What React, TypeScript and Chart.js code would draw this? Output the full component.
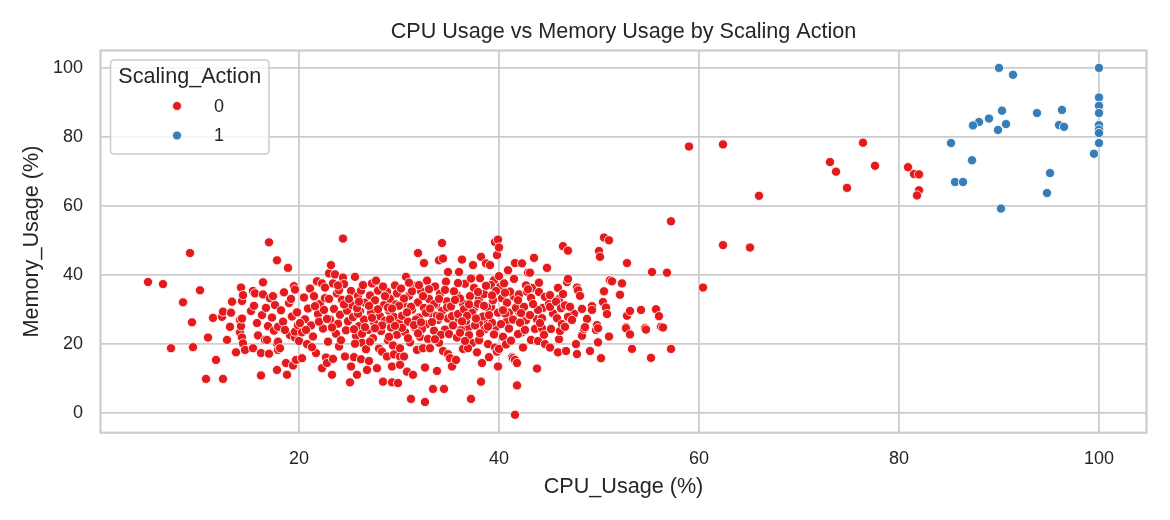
import React, { useEffect, useRef } from "react";
import { Chart, registerables } from "chart.js";

Chart.register(...registerables);

const TITLE = "CPU Usage vs Memory Usage by Scaling Action";
const X_LABEL = "CPU_Usage (%)";
const Y_LABEL = "Memory_Usage (%)";
const LEGEND_TITLE = "Scaling_Action";
const SERIES_LABELS = ["0", "1"];
const X_TICKS = [20, 40, 60, 80, 100];
const Y_TICKS = [0, 20, 40, 60, 80, 100];
const X_RANGE = [0.15, 104.75];
const Y_RANGE = [-5.8, 105.04];

type P = [number, number];

// Scaling_Action = 0, CPU < 15
const action0BandA: P[] = [
  [4.9, 37.9], [6.4, 37.3], [7.2, 18.7], [8.4, 32.0], [9.1, 46.3], [9.3, 26.2], [9.4, 19.0], [10.1, 35.5],
  [10.7, 9.8], [10.9, 21.8], [11.4, 27.5], [11.7, 15.3], [12.3, 27.8], [12.4, 29.3], [12.4, 9.8], [12.8, 21.1],
  [13.1, 24.9], [13.2, 29.0], [13.3, 32.2], [13.7, 17.5], [14.1, 26.9], [14.1, 23.3], [14.2, 36.3], [14.2, 25.1],
  [14.3, 21.8], [14.3, 32.4], [14.4, 34.1], [14.4, 20.1], [14.6, 18.2], [14.3, 27.3],
];
// CPU 15-20
const action0BandB: P[] = [
  [15.4, 35.3], [15.6, 34.6], [15.4, 18.7], [15.2, 29.5], [15.5, 31.0], [15.8, 26.0], [15.9, 22.4], [16.2, 17.3],
  [16.2, 10.8], [16.4, 37.8], [16.4, 34.3], [16.6, 21.1], [16.8, 21.1], [16.9, 25.1], [16.3, 28.3], [16.7, 30.4],
  [17.0, 49.4], [17.0, 17.1], [17.1, 33.2], [17.4, 33.8], [17.3, 27.6], [17.5, 23.8], [17.6, 31.2], [17.8, 44.2],
  [17.8, 12.4], [17.8, 20.1], [17.9, 18.2], [17.9, 24.9], [17.9, 20.6], [18.1, 18.7], [18.2, 29.7], [18.4, 26.4],
  [18.5, 34.9], [18.7, 14.4], [18.8, 11.0], [18.9, 42.0], [19.1, 22.5], [19.0, 31.8], [19.3, 27.9], [19.4, 13.7],
  [19.5, 36.7], [19.6, 35.7], [19.6, 21.8], [19.6, 23.5], [19.7, 15.3], [19.8, 29.1], [19.9, 25.4], [20.0, 20.8],
];
// CPU 20-25
const action0BandC: P[] = [
  [20.3, 23.3], [20.3, 15.8], [20.5, 33.4], [20.6, 27.1], [20.8, 19.9], [20.9, 30.2], [21.1, 36.0], [21.2, 25.3],
  [21.4, 22.1], [21.5, 33.8], [21.7, 17.3], [21.8, 38.1], [21.9, 28.6], [22.1, 31.5], [22.3, 37.5], [22.3, 12.9],
  [22.4, 24.4], [22.6, 36.3], [22.6, 33.2], [22.7, 16.0], [22.8, 14.4], [22.9, 20.6], [23.0, 40.4], [23.1, 27.0],
  [23.2, 42.8], [23.3, 11.0], [23.4, 15.6], [23.4, 37.5], [23.5, 30.1], [23.6, 40.1], [23.7, 22.9], [23.8, 34.6],
  [23.9, 25.8], [24.0, 19.2], [24.1, 28.4], [24.3, 32.7], [24.4, 50.5], [24.4, 39.2], [24.5, 37.3], [24.6, 16.3],
  [24.7, 23.9], [24.8, 29.6], [24.9, 26.5], [24.2, 21.0], [20.1, 26.0], [21.3, 19.0], [22.0, 26.4], [23.0, 33.0],
  [24.0, 35.5], [22.5, 29.8],
];
// CPU 25-30
const action0BandD: P[] = [
  [25.1, 8.8], [25.2, 13.4], [25.2, 35.3], [25.3, 31.2], [25.4, 27.7], [25.5, 16.1], [25.6, 39.4], [25.7, 22.3],
  [25.8, 11.0], [25.9, 33.9], [26.0, 25.1], [26.1, 29.4], [26.2, 15.5], [26.2, 35.4], [26.3, 20.3], [26.4, 37.0],
  [26.5, 27.0], [26.6, 31.9], [26.8, 12.4], [26.9, 24.0], [27.0, 15.0], [27.1, 34.0], [27.2, 29.0], [27.3, 37.5],
  [27.4, 21.6], [27.5, 26.2], [27.6, 32.6], [27.8, 12.9], [27.9, 35.4], [28.0, 18.6], [28.1, 28.0], [28.2, 23.7],
  [28.3, 17.7], [28.4, 9.0], [28.5, 31.2], [28.6, 26.7], [28.8, 16.3], [28.8, 35.1], [28.9, 21.0], [29.0, 29.6],
  [29.1, 33.0], [29.2, 24.7], [29.3, 8.8], [29.3, 13.4], [29.4, 19.5], [29.5, 27.8], [29.6, 36.9], [29.7, 31.4],
  [29.8, 22.6], [29.9, 8.6], [30.0, 25.9], [25.5, 24.2], [26.7, 18.4], [27.7, 38.3], [28.6, 33.8], [29.5, 16.9],
  [25.9, 28.7], [27.0, 31.0], [28.3, 25.3], [29.1, 27.1], [26.3, 22.9], [27.3, 27.5], [28.9, 30.5], [25.6, 20.0],
  [29.8, 34.6],
];
// CPU 30-35
const action0BandE: P[] = [
  [30.1, 16.3], [30.1, 18.7], [30.1, 13.9], [30.2, 36.0], [30.3, 28.1], [30.4, 31.6], [30.5, 16.3], [30.6, 23.4],
  [30.7, 39.4], [30.8, 11.9], [30.9, 26.4], [31.0, 33.9], [31.1, 20.4], [31.2, 4.0], [31.3, 29.9], [31.4, 11.0],
  [31.5, 36.8], [31.6, 24.7], [31.8, 18.2], [31.9, 46.3], [31.9, 32.0], [32.0, 27.6], [32.1, 22.0], [32.2, 35.2],
  [32.4, 18.7], [32.5, 43.4], [32.5, 30.4], [32.6, 13.1], [32.6, 3.1], [32.7, 25.6], [32.8, 38.3], [32.9, 21.4],
  [33.0, 33.0], [33.1, 18.7], [33.2, 28.8], [33.4, 6.9], [33.5, 23.8], [33.6, 36.6], [33.7, 31.3], [33.8, 12.1],
  [33.9, 26.9], [34.0, 44.2], [34.0, 20.3], [34.1, 34.5], [34.3, 49.2], [34.3, 29.5], [34.4, 44.7], [34.4, 17.9],
  [34.5, 6.9], [34.6, 24.1], [34.7, 38.0], [34.8, 32.3], [34.9, 40.8], [34.9, 17.0], [34.9, 27.3], [30.5, 33.1],
  [31.2, 30.7], [31.7, 27.0], [32.3, 24.3], [33.0, 35.8], [33.5, 31.5], [34.2, 22.6], [30.9, 21.6], [32.7, 29.0],
  [33.8, 28.1], [31.5, 25.4], [34.6, 35.6], [32.0, 37.0], [33.3, 26.3], [30.3, 24.6],
];
// CPU 35-40
const action0BandF: P[] = [
  [35.1, 15.8], [35.3, 13.4], [35.2, 30.8], [35.4, 25.3], [35.5, 35.2], [35.7, 15.3], [35.8, 21.8], [35.9, 28.6],
  [36.0, 40.8], [36.1, 33.1], [36.2, 24.0], [36.3, 44.4], [36.4, 18.5], [36.5, 30.0], [36.6, 37.4], [36.7, 26.6],
  [36.9, 18.7], [37.0, 22.5], [37.1, 33.8], [37.2, 4.0], [37.3, 29.0], [37.4, 42.8], [37.5, 36.2], [37.6, 25.3],
  [37.8, 17.5], [37.9, 31.6], [38.0, 21.0], [38.1, 39.0], [38.2, 45.2], [38.2, 9.0], [38.3, 14.4], [38.4, 27.9],
  [38.5, 34.4], [38.6, 24.2], [38.7, 43.3], [38.8, 30.6], [38.9, 19.9], [39.0, 16.1], [39.1, 42.8], [39.2, 37.0],
  [39.3, 26.1], [39.4, 32.6], [39.5, 22.7], [39.6, 49.5], [39.6, 18.9], [39.7, 35.3], [39.8, 45.7], [39.8, 17.7],
  [39.9, 50.2], [39.9, 13.4], [39.9, 29.0], [40.0, 47.9], [40.0, 18.5], [40.0, 39.6], [35.6, 32.7], [36.8, 28.1],
  [37.7, 27.3], [38.9, 25.0], [36.1, 23.2], [37.2, 38.9], [38.5, 31.0], [39.3, 34.0], [35.9, 37.6], [36.6, 20.8],
  [37.9, 35.0], [39.0, 28.3], [38.1, 23.0], [36.3, 26.5], [37.0, 31.4], [38.7, 36.8],
];
// CPU 40-45
const action0BandG: P[] = [
  [40.2, 25.7], [40.3, 33.2], [40.4, 22.0], [40.5, 37.5], [40.6, 28.8], [40.7, 19.8], [40.8, 31.9], [40.9, 41.3],
  [41.0, 24.4], [41.1, 35.1], [41.3, 16.1], [41.4, 15.8], [41.4, 27.0], [41.5, 38.8], [41.6, 15.3], [41.6, -0.6],
  [41.6, 43.4], [41.7, 30.4], [41.8, 14.4], [41.8, 7.9], [41.9, 22.8], [42.0, 34.3], [42.1, 26.1], [42.3, 43.3],
  [42.4, 18.9], [42.5, 30.7], [42.6, 24.0], [42.7, 36.9], [42.8, 35.1], [42.9, 35.8], [42.9, 40.6], [43.0, 28.3],
  [43.1, 40.6], [43.1, 28.3], [43.2, 33.3], [43.2, 21.1], [43.5, 44.9], [43.6, 24.3], [43.8, 12.8], [43.9, 20.8],
  [43.9, 29.8], [44.0, 37.7], [44.3, 24.5], [44.3, 27.4], [44.6, 33.6], [44.6, 19.9], [44.8, 42.0], [45.0, 31.5],
  [40.6, 34.8], [41.2, 20.9], [42.2, 28.9], [44.1, 26.0], [40.4, 29.7], [43.4, 31.5], [41.9, 32.6], [44.5, 22.6],
];
// CPU 45-57
const action0BandH: P[] = [
  [45.1, 34.1], [45.1, 30.7], [45.1, 18.9], [45.2, 24.3], [45.7, 32.2], [45.8, 27.4], [45.9, 36.2], [45.9, 17.5],
  [46.0, 21.3], [46.1, 23.7], [46.2, 30.3], [46.3, 25.7], [46.4, 48.3], [46.4, 34.4], [46.6, 31.1], [46.6, 24.9],
  [46.7, 17.9], [46.8, 37.9], [46.9, 38.8], [46.9, 47.0], [46.9, 27.8], [47.1, 30.7], [47.3, 26.9], [47.7, 19.9],
  [47.8, 36.3], [47.8, 17.0], [47.9, 35.5], [48.1, 33.9], [48.3, 30.1], [48.3, 22.3], [48.5, 24.3], [48.6, 24.8],
  [49.1, 17.9], [49.3, 30.9], [49.3, 29.8], [49.7, 24.0], [49.8, 25.4], [49.9, 24.5], [49.9, 20.4], [50.0, 46.9],
  [50.1, 45.2], [50.2, 15.8], [50.4, 32.1], [50.5, 50.8], [50.5, 35.2], [50.7, 30.5], [50.8, 28.6], [51.0, 50.0],
  [51.0, 22.1], [51.1, 38.4], [51.3, 38.1], [52.1, 34.2], [52.3, 37.5], [52.7, 24.8], [52.7, 24.5], [52.8, 43.4],
  [52.8, 28.1], [53.1, 29.5], [53.1, 22.7], [53.3, 18.5], [54.2, 29.8], [54.6, 24.5], [54.7, 24.1], [55.2, 15.9],
  [55.3, 40.8], [55.7, 30.0], [56.0, 28.0], [56.2, 24.9], [56.4, 24.7], [56.8, 40.6], [57.2, 55.5], [57.2, 18.5],
];
// dense core, CPU 18-49
const action0Core: P[] = [
  [21.6, 30.9], [22.8, 27.2], [23.3, 24.7], [24.5, 31.4], [25.0, 33.0], [25.8, 30.3], [26.6, 24.8], [27.1, 20.6],
  [27.9, 30.0], [28.4, 36.6], [29.0, 22.0], [29.6, 25.2], [30.8, 29.1], [31.3, 35.2], [31.9, 23.0], [32.4, 33.8],
  [33.1, 30.2], [33.6, 21.3], [34.1, 27.9], [34.8, 30.5], [35.3, 28.0], [35.8, 34.1], [36.4, 31.7], [36.9, 24.6],
  [37.5, 30.3], [38.0, 33.1], [38.6, 27.0], [39.2, 30.7], [39.7, 24.9], [40.1, 36.5], [40.8, 26.7], [41.5, 33.7],
  [42.0, 29.2], [42.7, 26.8], [43.3, 36.2], [43.8, 27.1], [44.4, 30.4], [45.4, 28.8], [46.0, 33.0], [47.5, 28.7],
  [48.8, 27.2], [23.9, 36.9], [26.0, 32.2], [30.0, 31.0], [32.2, 26.2], [36.0, 27.0], [37.3, 20.2], [39.5, 38.4],
  [41.0, 29.0], [42.3, 23.3], [20.7, 24.0], [19.2, 33.0], [18.6, 24.0], [27.6, 24.5], [31.0, 37.7], [35.0, 22.8],
  [44.0, 35.0], [29.3, 30.2], [34.0, 33.0], [38.0, 26.0],
];
// CPU > 57, Scaling_Action = 0
const action0BandI: P[] = [
  [59.0, 77.2], [60.4, 36.3], [62.4, 77.8], [62.4, 48.6], [65.1, 47.9], [66.0, 62.9], [73.1, 72.7], [73.7, 69.9],
  [74.8, 65.2], [76.4, 78.3], [77.6, 71.6], [80.9, 71.2], [81.5, 69.2], [82.0, 69.1], [82.0, 64.5], [81.8, 63.0],
];
// Scaling_Action = 1
const action1Points: P[] = [
  [90.0, 100.0], [91.4, 98.0], [100.0, 100.0], [100.0, 91.4], [100.0, 89.0], [100.0, 86.9], [100.0, 83.4],
  [100.0, 82.1], [100.0, 81.1], [100.0, 78.2], [99.5, 75.1], [90.3, 87.6], [93.8, 86.9], [96.3, 87.8],
  [96.0, 83.4], [96.5, 82.9], [89.0, 85.3], [88.0, 84.3], [87.4, 83.3], [90.7, 83.7], [89.9, 82.0],
  [85.2, 78.2], [87.3, 73.2], [85.6, 66.9], [86.4, 66.9], [95.1, 69.5], [94.8, 63.7], [90.2, 59.2],
];

const action0Points: P[] = [
  ...action0BandA, ...action0BandB, ...action0BandC, ...action0BandD, ...action0BandE, ...action0Core,
  ...action0BandF, ...action0BandG, ...action0BandH, ...action0BandI,
];

const COLORS = ["#e41a1c", "#377eb8"];
const FONT = "'Liberation Sans', Arial, 'DejaVu Sans', sans-serif";
const TEXT = "#262626";
const GRID = "#cccccc";

const decorPlugin = {
  id: "decor",
  beforeDatasetsDraw(chart: any) {
    const { ctx, chartArea: a } = chart;
    ctx.save();
    ctx.strokeStyle = GRID;
    ctx.lineWidth = 2.2;
    ctx.strokeRect(a.left, a.top, a.right - a.left, a.bottom - a.top);
    ctx.restore();
  },
  afterDraw(chart: any) {
    const { ctx, chartArea: a } = chart;
    const cx = (a.left + a.right) / 2;
    ctx.save();
    ctx.fillStyle = TEXT;
    ctx.textAlign = "center";
    ctx.textBaseline = "middle";
    ctx.font = `21.6px ${FONT}`;
    ctx.fillText(TITLE, cx, 32);
    ctx.fillText(X_LABEL, cx, 487);
    ctx.save();
    ctx.translate(32, (a.top + a.bottom) / 2);
    ctx.rotate(-Math.PI / 2);
    ctx.fillText(Y_LABEL, 0, 0);
    ctx.restore();

    // legend
    const lx = 110.5, ly = 60, lw = 158.5, lh = 94, r = 4;
    ctx.beginPath();
    ctx.moveTo(lx + r, ly);
    ctx.lineTo(lx + lw - r, ly);
    ctx.quadraticCurveTo(lx + lw, ly, lx + lw, ly + r);
    ctx.lineTo(lx + lw, ly + lh - r);
    ctx.quadraticCurveTo(lx + lw, ly + lh, lx + lw - r, ly + lh);
    ctx.lineTo(lx + r, ly + lh);
    ctx.quadraticCurveTo(lx, ly + lh, lx, ly + lh - r);
    ctx.lineTo(lx, ly + r);
    ctx.quadraticCurveTo(lx, ly, lx + r, ly);
    ctx.closePath();
    ctx.fillStyle = "rgba(255,255,255,0.8)";
    ctx.fill();
    ctx.strokeStyle = GRID;
    ctx.lineWidth = 1.5;
    ctx.stroke();

    ctx.fillStyle = TEXT;
    ctx.font = `21.6px ${FONT}`;
    ctx.fillText(LEGEND_TITLE, lx + lw / 2, 77.5);
    const rows = [106, 135.5];
    SERIES_LABELS.forEach((lab, i) => {
      ctx.beginPath();
      ctx.arc(177, rows[i], 4.5, 0, Math.PI * 2);
      ctx.fillStyle = COLORS[i];
      ctx.fill();
      ctx.strokeStyle = "#ffffff";
      ctx.lineWidth = 0.8;
      ctx.stroke();
      ctx.fillStyle = TEXT;
      ctx.font = `18px ${FONT}`;
      ctx.fillText(lab, 219, rows[i] + 1);
    });
    ctx.restore();
  },
};

export default function App() {
  const ref = useRef<HTMLCanvasElement | null>(null);
  useEffect(() => {
    document.body.style.margin = "0";
    if (!ref.current) return;
    const toData = (pts: P[]) => pts.map(([x, y]) => ({ x, y }));
    const chart = new Chart(ref.current, {
      type: "scatter",
      data: {
        datasets: [
          {
            label: SERIES_LABELS[0],
            data: toData(action0Points),
            backgroundColor: COLORS[0],
            borderColor: "#ffffff",
            borderWidth: 0.8,
            pointRadius: 4.6,
          },
          {
            label: SERIES_LABELS[1],
            data: toData(action1Points),
            backgroundColor: COLORS[1],
            borderColor: "#ffffff",
            borderWidth: 0.8,
            pointRadius: 4.6,
          },
        ],
      },
      options: {
        responsive: false,
        animation: false,
        devicePixelRatio: 1,
        layout: { padding: { left: 0.5, right: 23.5, top: 50.5, bottom: 0 } },
        plugins: { legend: { display: false }, title: { display: false }, tooltip: { enabled: false } },
        scales: {
          x: {
            type: "linear",
            min: X_RANGE[0],
            max: X_RANGE[1],
            afterBuildTicks: (s: any) => {
              s.ticks = X_TICKS.map((v) => ({ value: v }));
            },
            afterFit: (s: any) => {
              s.height = 87.3;
            },
            ticks: { font: { family: FONT, size: 18 }, color: TEXT, padding: 16, maxRotation: 0, autoSkip: false },
            grid: { color: GRID, lineWidth: 1.8, drawTicks: false },
            border: { display: false },
          },
          y: {
            type: "linear",
            min: Y_RANGE[0],
            max: Y_RANGE[1],
            afterBuildTicks: (s: any) => {
              s.ticks = Y_TICKS.map((v) => ({ value: v }));
            },
            afterFit: (s: any) => {
              s.width = 100;
            },
            ticks: { font: { family: FONT, size: 18 }, color: TEXT, padding: 17.5, autoSkip: false },
            grid: { color: GRID, lineWidth: 1.8, drawTicks: false },
            border: { display: false },
          },
        },
      },
      plugins: [decorPlugin],
    });
    return () => chart.destroy();
  }, []);
  return (
    <div style={{ width: 1170, height: 520, background: "#ffffff" }}>
      <canvas ref={ref} width={1170} height={520} />
    </div>
  );
}
